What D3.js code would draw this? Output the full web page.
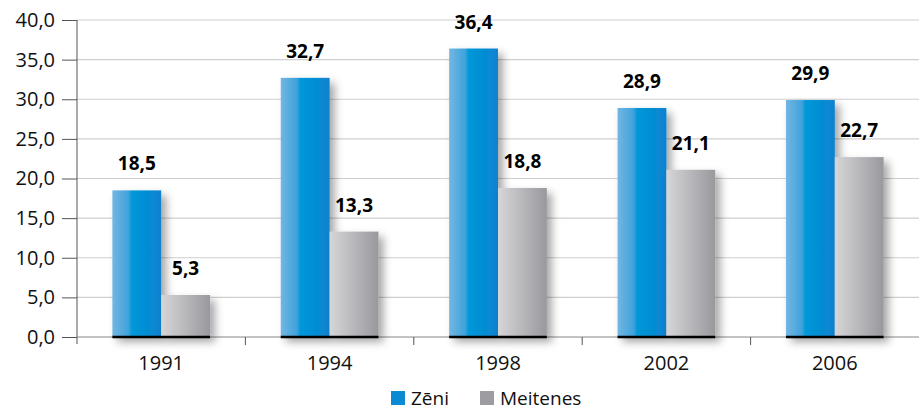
<!DOCTYPE html>
<html>
<head>
<meta charset="utf-8">
<script src="https://cdn.jsdelivr.net/npm/d3@7"></script>
<style>
  body { margin: 0; background: #fff; }
  text { font-family: "Open Sans", "Noto Sans", sans-serif; }
</style>
</head>
<body>
<script>
// chart data
var years = ["1991", "1994", "1998", "2002", "2006"];
var zeni = [18.5, 32.7, 36.4, 28.9, 29.9];
var meitenes = [5.3, 13.3, 18.8, 21.1, 22.7];
var seriesNames = ["Zēni", "Meitenes"];
var yTicks = [0, 5, 10, 15, 20, 25, 30, 35, 40];

var width = 919, height = 414;
var margin = {top: 20, right: 0, bottom: 77, left: 77};
var innerW = width - margin.left - margin.right;
var innerH = height - margin.top - margin.bottom;

var fmt = function(v) { return d3.format(".1f")(v).replace(".", ","); };

var svg = d3.select("body").append("svg")
  .attr("width", width)
  .attr("height", height);

// gradients and shadow
var defs = svg.append("defs");
var gBlue = defs.append("linearGradient").attr("id", "gBlue");
gBlue.append("stop").attr("offset", "0%").attr("stop-color", "#74b6e2");
gBlue.append("stop").attr("offset", "33%").attr("stop-color", "#3ea2dc");
gBlue.append("stop").attr("offset", "40%").attr("stop-color", "#0098d8");
gBlue.append("stop").attr("offset", "100%").attr("stop-color", "#0a82cf");
var gGrey = defs.append("linearGradient").attr("id", "gGrey");
gGrey.append("stop").attr("offset", "0%").attr("stop-color", "#d6d6d8");
gGrey.append("stop").attr("offset", "100%").attr("stop-color", "#99989d");
var shadow = defs.append("filter").attr("id", "shadow")
  .attr("x", "-20%").attr("y", "-20%").attr("width", "160%").attr("height", "160%");
shadow.append("feDropShadow")
  .attr("dx", 5).attr("dy", 5).attr("stdDeviation", 4)
  .attr("flood-color", "#000").attr("flood-opacity", 0.35);

var g = svg.append("g")
  .attr("transform", "translate(" + margin.left + "," + margin.top + ")");

// scales
var x0 = d3.scaleBand().domain(years).range([0, innerW]).paddingInner(0.42).paddingOuter(0.21);
var x1 = d3.scaleBand().domain(seriesNames).range([0, x0.bandwidth()]);
var y = d3.scaleLinear().domain([0, 40]).range([innerH, 0]);
var xStep = d3.scaleBand().domain(years).range([0, innerW]);

// gridlines
g.selectAll(".grid").data(yTicks.slice(1)).enter().append("line")
  .attr("x1", 0).attr("x2", innerW)
  .attr("y1", function(d) { return y(d); })
  .attr("y2", function(d) { return y(d); })
  .attr("stroke", "#cfcfcf").attr("stroke-width", 1.2);

// y axis
var yAxis = d3.axisLeft(y).tickValues(yTicks).tickFormat(fmt).tickSize(15).tickPadding(7);
var ya = g.append("g").call(yAxis);
ya.select(".domain").remove();
ya.selectAll(".tick line").attr("stroke", "#555");
ya.selectAll(".tick text").style("font-size", "20px").attr("fill", "#111");
g.append("line").attr("x1", 0).attr("x2", 0).attr("y1", 0).attr("y2", innerH + 7)
  .attr("stroke", "#555");

// x axis baseline and separators
g.append("line").attr("x1", 0).attr("x2", innerW).attr("y1", innerH).attr("y2", innerH)
  .attr("stroke", "#888").attr("stroke-width", 1.2);
g.selectAll(".sep").data(years.slice(1)).enter().append("line")
  .attr("x1", function(d) { return xStep(d); })
  .attr("x2", function(d) { return xStep(d); })
  .attr("y1", innerH).attr("y2", innerH + 8)
  .attr("stroke", "#555");

// bars
var rows = years.map(function(yr, i) {
  return {year: yr, vals: [{s: seriesNames[0], v: zeni[i]}, {s: seriesNames[1], v: meitenes[i]}]};
});
var groups = g.selectAll(".grp").data(rows).enter().append("g")
  .attr("transform", function(d) { return "translate(" + x0(d.year) + ",0)"; });

groups.selectAll("rect").data(function(d) { return d.vals; }).enter().append("rect")
  .attr("x", function(d) { return x1(d.s); })
  .attr("y", function(d) { return y(d.v); })
  .attr("width", x1.bandwidth())
  .attr("height", function(d) { return innerH - y(d.v); })
  .attr("fill", function(d, i) { return i === 0 ? "url(#gBlue)" : "url(#gGrey)"; })
  .attr("filter", "url(#shadow)");

groups.append("line")
  .attr("x1", 0).attr("x2", x0.bandwidth())
  .attr("y1", innerH).attr("y2", innerH)
  .attr("stroke", "#000").attr("stroke-width", 2.5);

groups.selectAll(".val").data(function(d) { return d.vals; }).enter().append("text")
  .attr("x", function(d) { return x1(d.s) + x1.bandwidth() / 2; })
  .attr("y", function(d) { return y(d.v) - 20; })
  .attr("text-anchor", "middle")
  .style("font-size", "19px").style("font-weight", "bold")
  .attr("fill", "#000")
  .text(function(d) { return fmt(d.v); });

// x labels
g.selectAll(".xl").data(years).enter().append("text")
  .attr("x", function(d) { return x0(d) + x0.bandwidth() / 2; })
  .attr("y", innerH + 33)
  .attr("text-anchor", "middle")
  .style("font-size", "20px").attr("fill", "#111")
  .text(function(d) { return d; });

// legend
var legend = svg.append("g").attr("transform", "translate(391,391)");
var legendItems = [{name: seriesNames[0], color: "#0a8ad2", x: 0}, {name: seriesNames[1], color: "#9d9ca1", x: 89}];
legendItems.forEach(function(d) {
  legend.append("rect").attr("x", d.x).attr("y", 0).attr("width", 14).attr("height", 14).attr("fill", d.color);
  legend.append("text").attr("x", d.x + 20).attr("y", 14)
    .style("font-size", "19px").attr("fill", "#111").text(d.name);
});
</script>
</body>
</html>
